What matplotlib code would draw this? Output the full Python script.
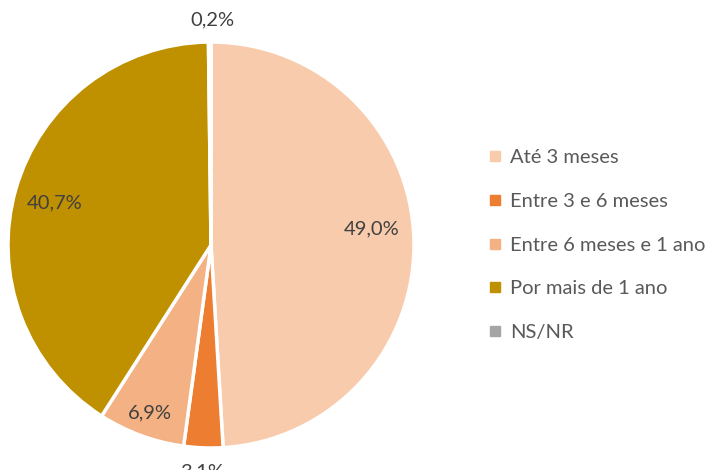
import matplotlib.pyplot as plt
from matplotlib.lines import Line2D
import numpy as np

categories = ["Até 3 meses", "Entre 3 e 6 meses", "Entre 6 meses e 1 ano", "Por mais de 1 ano", "NS/NR"]
values = [49.0, 3.1, 6.9, 40.7, 0.2]
labels = ["49,0%", "3,1%", "6,9%", "40,7%", "0,2%"]
colors = ["#F8CBAD", "#ED7D31", "#F4B183", "#BF9000", "#A5A5A5"]
label_r = [0.79, 1.12, 0.87, 0.81, 1.11]
label_dy = [0.055, 0.0, -0.01, -0.015, 0.0]
label_dx = [0.0, 0.0, 0.0, 0.01, 0.015]

plt.rcParams['font.family'] = ['Lato', 'DejaVu Sans']
fig = plt.figure(figsize=(7.11, 4.70), dpi=100)
ax = fig.add_axes([8/711, 22/470, 406/711, 406/470])
wedges, _ = ax.pie(values, colors=colors, startangle=90, counterclock=False,
                   radius=1.0, wedgeprops=dict(edgecolor="white", linewidth=2.5))
ax.set_xlim(-1, 1)
ax.set_ylim(-1, 1)
ax.set_aspect('equal')
ax.axis('off')

for w, lab, r, dx, dy in zip(wedges, labels, label_r, label_dx, label_dy):
    ang = np.deg2rad((w.theta1 + w.theta2) / 2)
    ax.text(r * np.cos(ang) + dx, r * np.sin(ang) + dy, lab, ha='center', va='center',
            fontsize=14.5, color='#404040', clip_on=False)

handles = [Line2D([0], [0], marker='s', linestyle='none', markersize=6.5,
                  markerfacecolor=c, markeredgecolor=c) for c in colors]
fig.legend(handles, categories, loc='center left', bbox_to_anchor=(481/711, 1 - 245/470),
           frameon=False, fontsize=14.5, labelcolor='#595959', handlelength=0.6,
           handletextpad=0.45, labelspacing=1.33, borderaxespad=0)

fig.savefig("out.png", dpi=100)
